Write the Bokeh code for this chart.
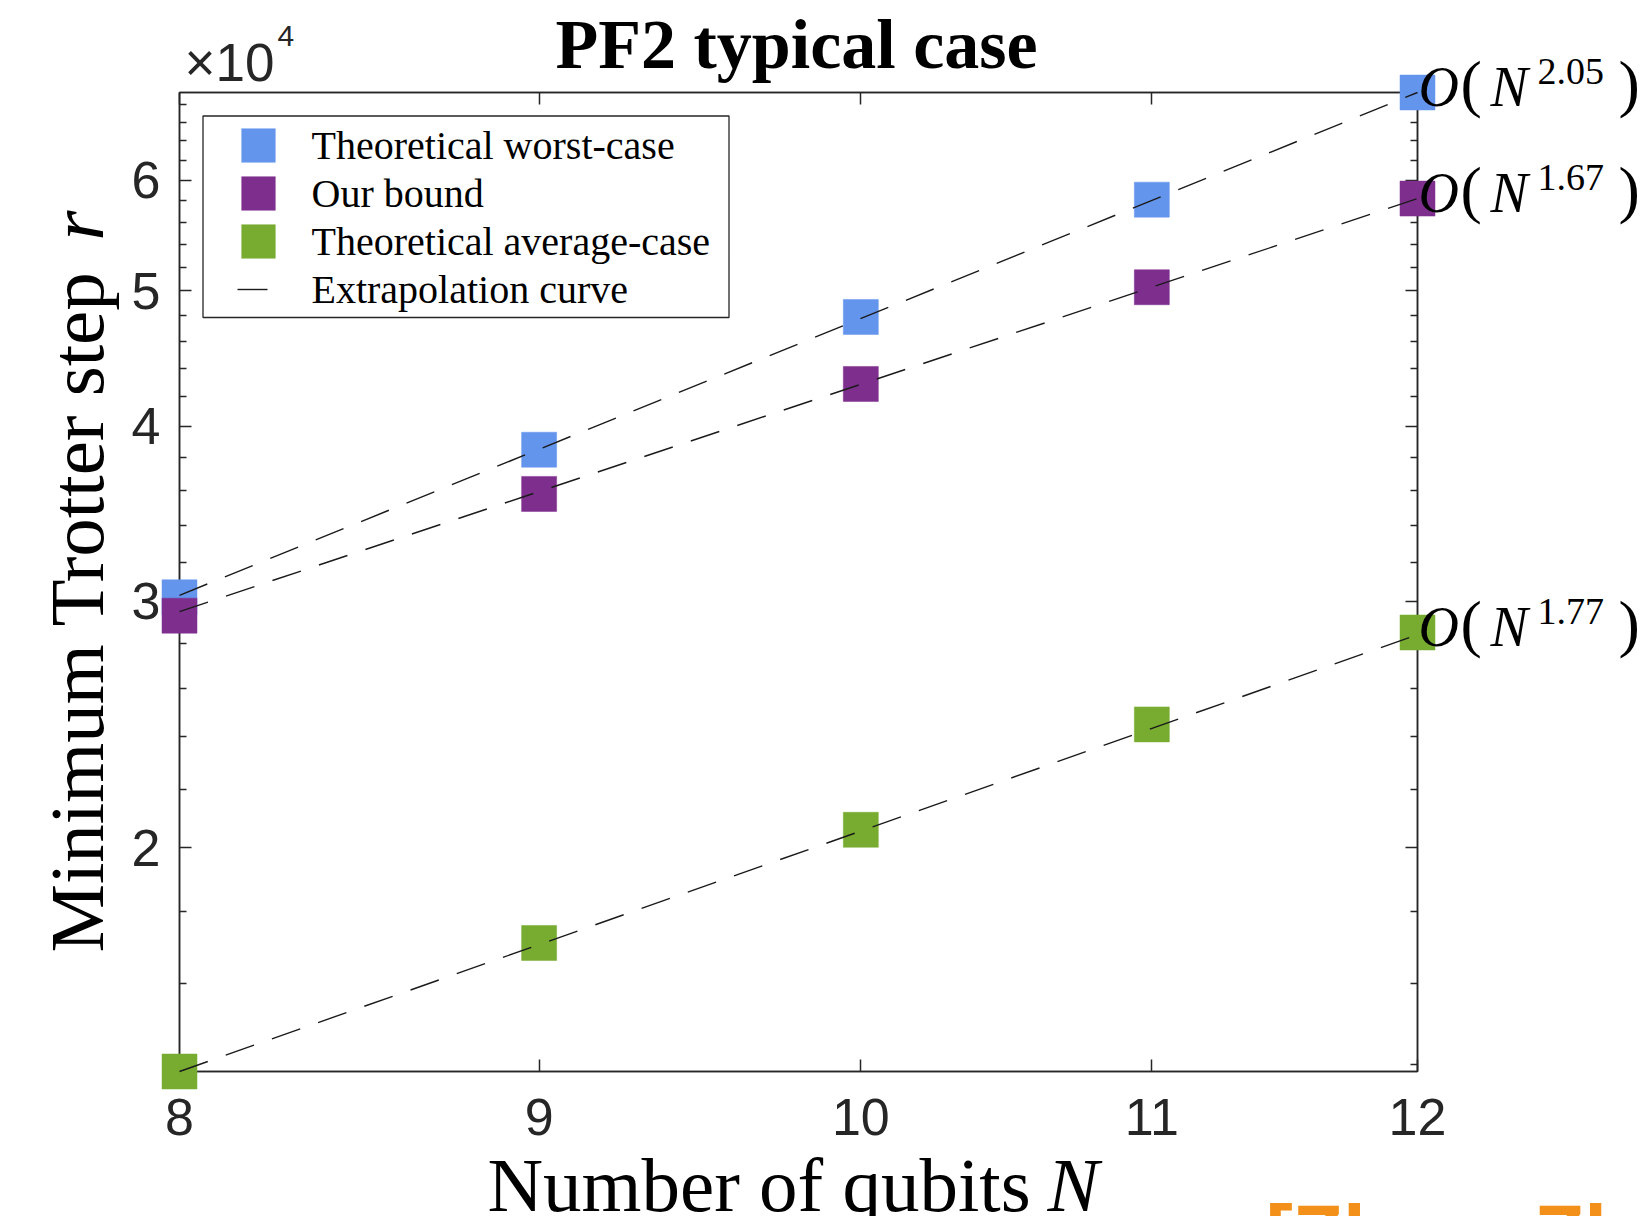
import math
from bokeh.plotting import figure
from bokeh.models import Range1d, LogAxis, FixedTicker, Legend, LegendItem, BoxAnnotation
from bokeh.core.properties import value
from bokeh.embed import file_html
from bokeh.resources import INLINE

# ---------------- data ----------------
qubits = [8, 9, 10, 11, 12]
worst_case = [30200, 38500, 47900, 58100, 69300]
our_bound = [29300, 35800, 42900, 50300, 58200]
average_case = [13840, 17100, 20600, 24500, 28500]

fit_qubits = [8, 12]
fit_worst_case = [30300, 69300]
fit_our_bound = [29500, 58200]
fit_average_case = [13840, 28400]

exponent_labels = ["2.05", "1.67", "1.77"]
series_labels = ["Theoretical worst-case", "Our bound", "Theoretical average-case"]
fit_label = "Extrapolation curve"

x_ticks = [8, 9, 10, 11, 12]
x_tick_labels = ["8", "9", "10", "11", "12"]
y_ticks = [20000, 30000, 40000, 50000, 60000]
y_tick_labels = ["2", "3", "4", "5", "6"]
y_minor_ticks = [14000, 16000, 18000, 22000, 24000, 26000, 28000,
                 32000, 34000, 36000, 38000, 42000, 44000, 46000, 48000,
                 52000, 54000, 56000, 58000, 62000, 64000, 66000, 68000]

title_text = "PF2 typical case"
x_label = "Number of qubits"
x_label_var = "N"
y_label = "Minimum Trotter step"
y_label_var = "r"
scale_text = "×10"
scale_exp = "4"
citation_text = "[Zhao, Zhou"

# ---------------- styles / layout ----------------
colors = ["#6495ED", "#7E2F8E", "#77AC30"]
AX = "#262626"
W, H = 1640, 1216
L, R, T, B = 179, 1417, 92, 1071   # axes box in canvas pixels
FH = B - T

x_lo, x_hi = qubits[0], qubits[-1]
y_lo, y_hi = min(average_case), max(worst_case)

p = figure(width=W, height=H, x_axis_type="log", y_axis_type="log",
           x_range=Range1d(x_lo, x_hi), y_range=Range1d(y_lo, y_hi),
           output_backend="svg", toolbar_location=None,
           min_border_left=L, min_border_right=W - R,
           min_border_top=T, min_border_bottom=H - B)
p.outline_line_color = AX
p.outline_line_width = 1.5
p.grid.visible = False
p.background_fill_color = "white"
p.border_fill_color = "white"


def style_axis(ax, ticker, labels, standoff):
    ax.ticker = ticker
    ax.axis_line_color = AX
    ax.axis_line_width = 1.5
    ax.major_tick_line_color = AX
    ax.major_tick_line_width = 1.5
    ax.minor_tick_line_color = AX
    ax.minor_tick_line_width = 1.3
    ax.major_tick_in = 12
    ax.major_tick_out = 0
    ax.minor_tick_in = 7
    ax.minor_tick_out = 0
    ax.major_label_text_font = "Liberation Sans"
    ax.major_label_text_font_size = "52px"
    ax.major_label_text_color = AX
    ax.major_label_standoff = standoff
    ax.major_label_overrides = labels


x_ticker = FixedTicker(ticks=x_ticks, minor_ticks=[])
y_ticker = FixedTicker(ticks=y_ticks, minor_ticks=y_minor_ticks)

style_axis(p.xaxis[0], x_ticker, dict(zip(x_ticks, x_tick_labels)), 27)
style_axis(p.yaxis[0], y_ticker, dict(zip(y_ticks, y_tick_labels)), 19)

top_axis = LogAxis()
style_axis(top_axis, x_ticker, {t: "" for t in x_ticks}, 0)
top_axis.major_label_text_font_size = "1px"
p.add_layout(top_axis, "above")
right_axis = LogAxis()
style_axis(right_axis, y_ticker, {t: "" for t in y_ticks}, 0)
right_axis.major_label_text_font_size = "1px"
p.add_layout(right_axis, "right")

# ---------------- marks (overlay level: not clipped at the axes box) ----------------
series = [worst_case, our_bound, average_case]
fits = [fit_worst_case, fit_our_bound, fit_average_case]
mark_renderers = []
for vals, c in zip(series, colors):
    r = p.rect(x=qubits, y=vals, width=35, height=35,
               width_units="screen", height_units="screen",
               fill_color=c, line_color=c, line_width=0.5, level="overlay")
    mark_renderers.append(r)

line_renderers = []
for fv in fits:
    lr = p.line(fit_qubits, fv, line_color="#1a1a1a", line_width=1.4,
                line_dash="30 19", level="overlay")
    line_renderers.append(lr)

# ---------------- legend ----------------
legend_box = BoxAnnotation(left=23.5, right=549.5, top=FH - 23.5, bottom=FH - 225,
                           left_units="screen", right_units="screen",
                           top_units="screen", bottom_units="screen",
                           fill_color="white", fill_alpha=1.0,
                           line_color=AX, line_width=1.3, line_alpha=1.0)
p.add_layout(legend_box)

items = [LegendItem(label=series_labels[i], renderers=[mark_renderers[i]]) for i in range(3)]
items.append(LegendItem(label=fit_label, renderers=[line_renderers[0]]))
# border is drawn by legend_box; without a border the legend padding collapses to 0
legend = Legend(items=items, location=(57.5, FH - 220.5), padding=0, spacing=1,
                glyph_width=42, glyph_height=42, label_height=42, label_standoff=33,
                label_text_font="Liberation Serif", label_text_font_size="40px",
                label_text_color="black",
                border_line_color=None, background_fill_alpha=0.0)
p.add_layout(legend)


# ---------------- texts (text glyphs, overlay level) ----------------
def txt(text, x, y, dx, dy_up, size, font="Liberation Serif", style="normal",
        align="left", rotated=False, color="black"):
    """dx/dy_up place the text's baseline relative to the data point (pixels)."""
    k = 0.3465 if "Sans" in font else 0.3375   # baseline -> middle of the em box
    if rotated:
        xo, yo, ang = dx - k * size, -dy_up, math.pi / 2
    else:
        xo, yo, ang = dx, -(dy_up + k * size), 0.0
    p.text(x=[x], y=[y], text=[text], x_offset=xo, y_offset=yo,
           text_font=value(font), text_font_size=value(f"{size}px"),
           text_font_style=style, text_align=align, text_baseline="middle",
           angle=ang, text_color=color, level="overlay")


txt(title_text, x_lo, y_hi, 617, 24, 70, style="bold", align="center")
txt(scale_text, x_lo, y_hi, 5, 12, 53, font="Liberation Sans", color=AX)
txt(scale_exp, x_lo, y_hi, 98, 46, 30, font="Liberation Sans", color=AX)

txt(y_label, x_lo, y_lo, -77, 119, 77, rotated=True)
txt(y_label_var, x_lo, y_lo, -77, 831, 77, style="italic", rotated=True)
txt(x_label, x_lo, y_lo, 308, -139, 77)
txt(x_label_var, x_lo, y_lo, 868, -139, 77, style="italic")

for vals, e in zip(series, exponent_labels):
    yv = vals[-1]
    txt("O", x_hi, yv, 1, -13, 56, style="italic")
    txt("(", x_hi, yv, 43, -13, 64)
    txt("N", x_hi, yv, 73, -13, 56, style="italic")
    txt(e, x_hi, yv, 120, 8, 38)
    txt(")", x_hi, yv, 201, -13, 64)

txt(citation_text, x_hi, y_lo, -152, -190, 82, font="Liberation Sans",
    style="bold", color="#F39019")

html = file_html(p, INLINE, title=title_text)
with open("out.html", "w") as f:
    f.write(html)
